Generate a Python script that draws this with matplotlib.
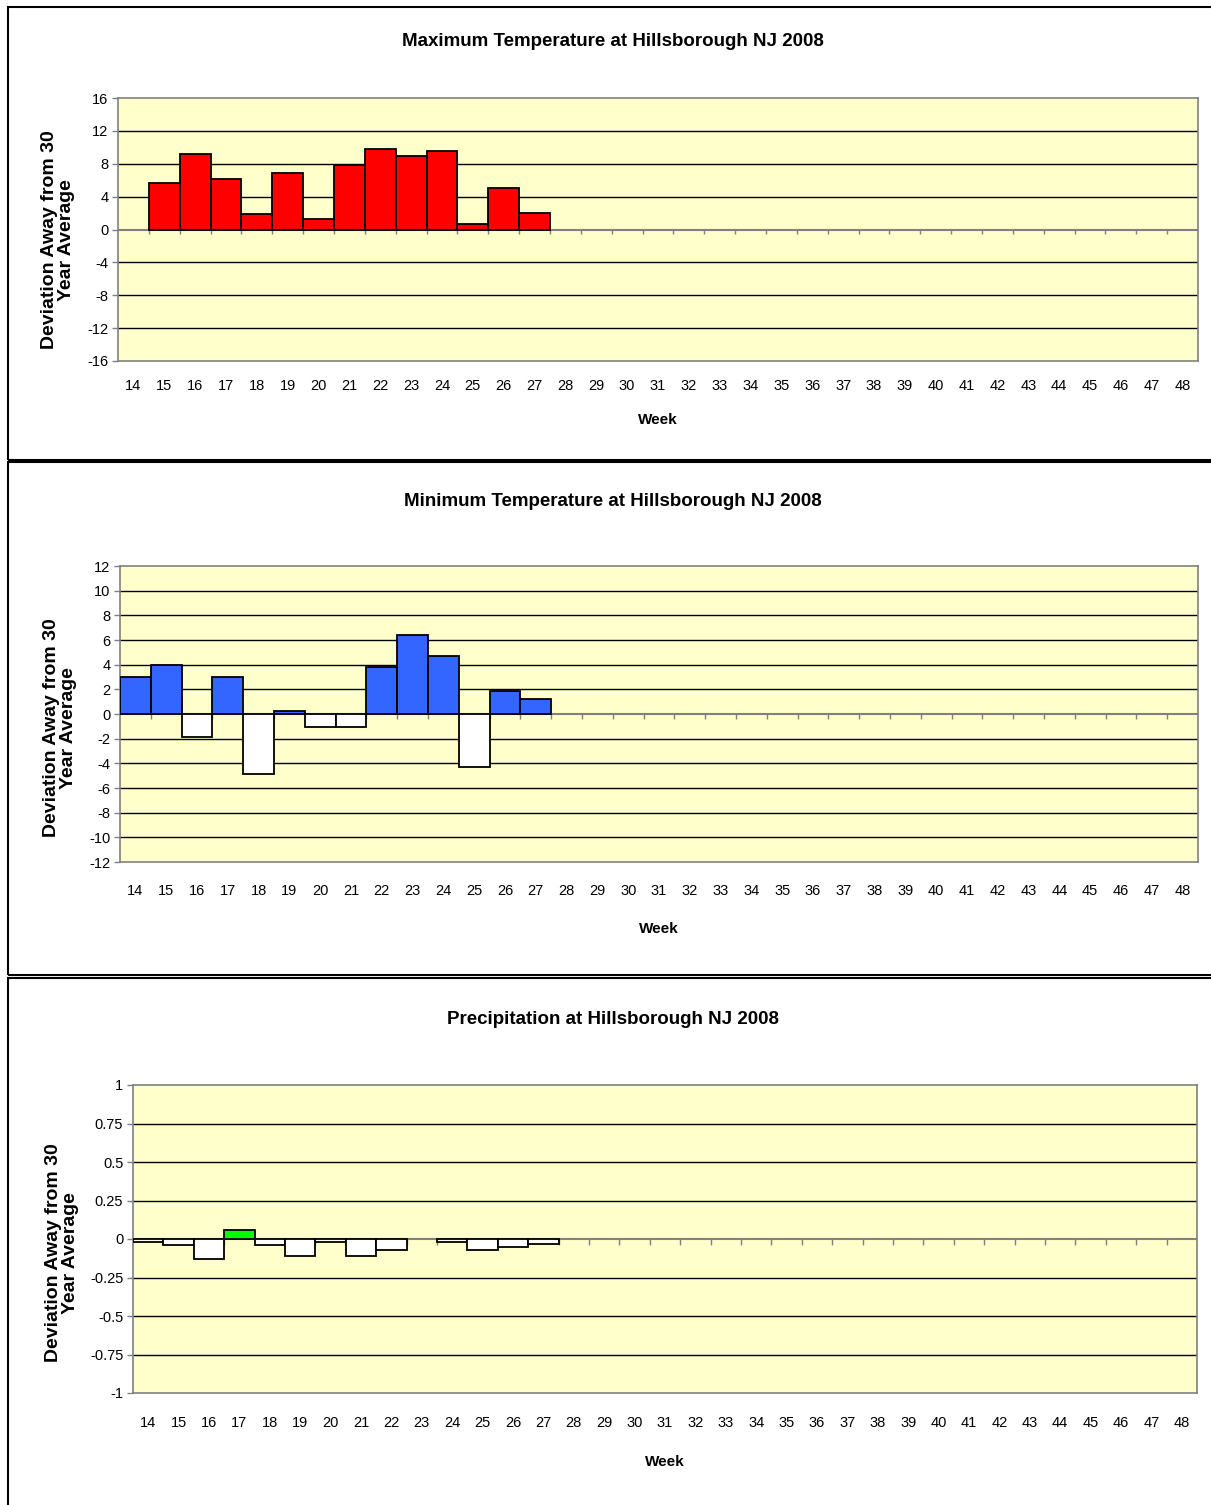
import numpy as np
import matplotlib
matplotlib.use("Agg")
import matplotlib.pyplot as plt
from matplotlib.patches import Rectangle

# ---- data (weeks 14..48, only 14..27 reported) ----
weeks = list(range(14, 49))
max_temp = [np.nan, 5.6, 9.2, 6.2, 1.85, 6.9, 1.3, 7.9, 9.75, 8.9, 9.6, 0.7, 5.1, 2.05]
min_temp = [3.0, 4.0, -1.9, 3.0, -4.9, 0.25, -1.05, -1.05, 3.85, 6.4, 4.7, -4.3, 1.85, 1.25]
precip = [-0.022, -0.037, -0.13, 0.061, -0.037, -0.109, -0.022, -0.109, -0.072, np.nan,
          -0.022, -0.072, -0.05, -0.03]

max_ticks = [-16, -12, -8, -4, 0, 4, 8, 12, 16]
min_ticks = [-12, -10, -8, -6, -4, -2, 0, 2, 4, 6, 8, 10, 12]
precip_ticks = [-1, -0.75, -0.5, -0.25, 0, 0.25, 0.5, 0.75, 1]

titles = ["Maximum Temperature at Hillsborough NJ 2008",
          "Minimum Temperature at Hillsborough NJ 2008",
          "Precipitation at Hillsborough NJ 2008"]
ylabel = "Deviation Away from 30\nYear Average"

W, H = 1211, 1505
BG = "#FFFFCC"
REG = ["Liberation Sans", "DejaVu Sans"]

fig = plt.figure(figsize=(W / 100, H / 100), dpi=100)


def pad(vals):
    return list(vals) + [np.nan] * (len(weeks) - len(vals))


def box(x0, y0, x1, y1):
    return [x0 / W, 1 - y1 / H, (x1 - x0) / W, (y1 - y0) / H]


def panel(rect, vals, ticks, pos_color, title_y, title, ticks_y, week_y, ylab_xy, fmt=str):
    ax = fig.add_axes(box(*rect))
    ax.set_facecolor(BG)
    v = np.array(pad(vals))
    x = np.arange(len(weeks))
    colors = [pos_color if (not np.isnan(a) and a > 0) else "white" for a in v]
    ax.bar(x, np.nan_to_num(v), width=1.0, color=colors, edgecolor="black",
           linewidth=1.3, zorder=3)
    # hide bars for missing weeks
    for p, a in zip(ax.patches, v):
        if np.isnan(a):
            p.set_visible(False)
    ax.set_xlim(-0.5, len(weeks) - 0.5)
    ax.set_ylim(ticks[0], ticks[-1])
    ax.set_yticks(ticks)
    ax.set_yticklabels([fmt(t) for t in ticks], fontsize=10.5, family=REG)
    for t in ticks[1:-1]:
        if t != 0:
            ax.axhline(t, color="black", lw=1.0, zorder=1)
    ax.axhline(0, color="#808080", lw=1.5, zorder=2)
    # category tick marks on the zero line
    tl = (ticks[-1] - ticks[0]) * 0.018
    ax.vlines(x[:-1] + 0.5, -tl, 0, color="#808080", lw=1.0, zorder=2)
    ax.set_xticks([])
    ax.tick_params(axis="y", length=4, width=1, color="#808080", pad=3)
    for s in ax.spines.values():
        s.set_color("#808080")
        s.set_linewidth(1.2)
    # x labels
    ty = -(ticks_y - rect[3]) / (rect[3] - rect[1])
    for xi, w in zip(x, weeks):
        ax.text(xi, ty, str(w), transform=ax.get_xaxis_transform(), fontsize=10.5,
                family=REG, ha="center", va="center")
    fig.text(613 / W, 1 - (title_y + 2) / H, title, fontsize=13.5,
             fontweight="bold", family=REG, ha="center", va="center")
    fig.text(sum(rect[::2]) / 2 / W, 1 - (week_y + 1) / H, "Week", fontsize=11,
             fontweight="bold", family=REG, ha="center", va="center")
    fig.text(ylab_xy[0] / W, 1 - ylab_xy[1] / H, ylabel, rotation=90, fontsize=14,
             fontweight="bold", family=REG, ha="center", va="center",
             linespacing=0.95)
    return ax


panel((118, 98, 1198, 361), max_temp, max_ticks, "#FF0000", 40, titles[0], 386, 419, (58, 240))
panel((120, 566, 1198, 862), min_temp, min_ticks, "#3366FF", 500, titles[1], 891, 928, (60, 728))
panel((133, 1085, 1197, 1393), precip, precip_ticks, "#00FF00", 1018, titles[2], 1423, 1461,
      (62, 1253), fmt=lambda t: f"{t:g}")

# panel frames
for y0, y1 in [(7, 460), (462, 975), (978, 1512)]:
    fig.patches.append(Rectangle((8 / W, 1 - y1 / H), 1.0, (y1 - y0) / H,
                                 transform=fig.transFigure, fill=False,
                                 edgecolor="black", lw=1.5))

fig.savefig("out.png", dpi=100)
